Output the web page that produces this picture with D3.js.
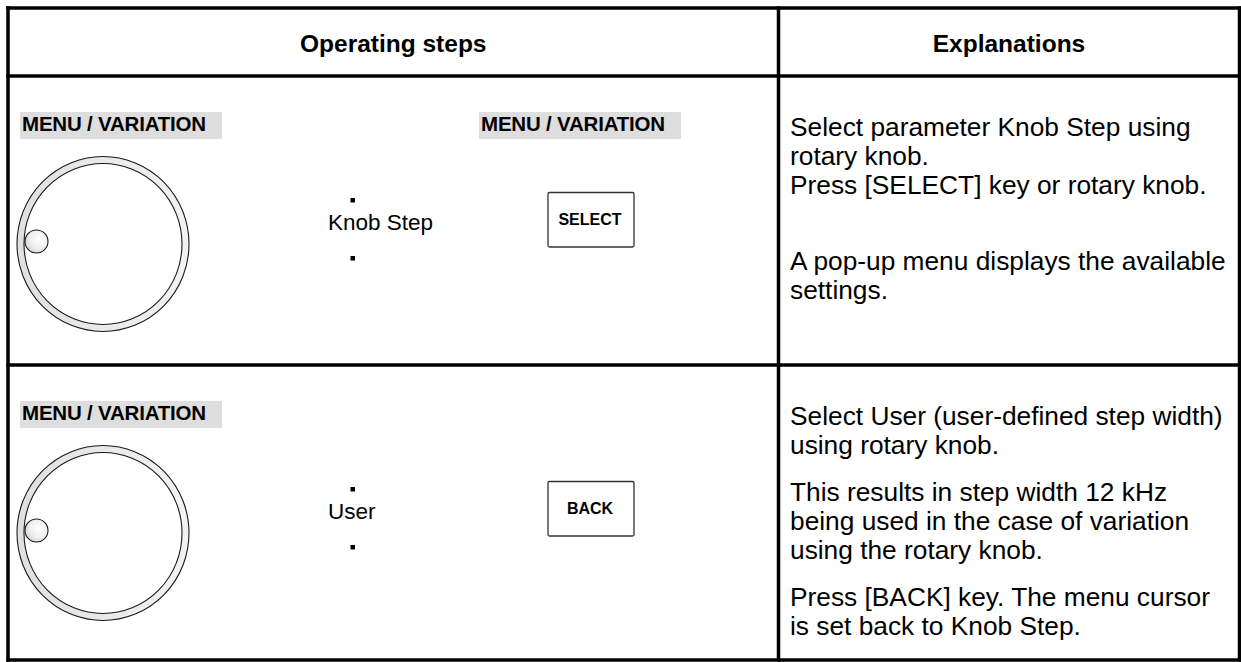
<!DOCTYPE html>
<html>
<head>
<meta charset="utf-8">
<script src="https://cdn.jsdelivr.net/npm/d3@7"></script>
<style>
  html, body { margin: 0; padding: 0; background: #fff; }
  svg { display: block; }
  text { font-family: "Liberation Sans", Arimo, Arial, sans-serif; fill: #000; }
</style>
</head>
<body>
<div id="chart"></div>
<script>
// ---------- data ----------
const headers = ["Operating steps", "Explanations"];
const menuLabel = "MENU / VARIATION";
const stepItems = ["Knob Step", "User"];
const keyLabels = ["SELECT", "BACK"];
const secondMenuShown = [true, false];
const explanationRow1 = [
  ["Select parameter Knob Step using", "rotary knob.", "Press [SELECT] key or rotary knob.", ""],
  ["A pop-up menu displays the available", "settings."]
];
const explanationRow2 = [
  ["Select User (user-defined step width)", "using rotary knob."],
  ["This results in step width 12 kHz", "being used in the case of variation", "using the rotary knob."],
  ["Press [BACK] key. The menu cursor", "is set back to Knob Step."]
];
const explanations = [explanationRow1, explanationRow2];

// ---------- layout ----------
const W = 1241, H = 662;
const svg = d3.select("#chart").append("svg").attr("width", W).attr("height", H);

const xEdge = d3.scaleOrdinal().domain(["left", "mid", "right"]).range([8, 778.5, 1239.5]);
const yEdge = d3.scaleOrdinal().domain(["top", "head", "row", "bottom"]).range([8, 76, 365, 660]);
const rowTops = [yEdge("head"), yEdge("row")];

const defs = svg.append("defs");
const g1 = defs.append("radialGradient").attr("id", "dimple").attr("cx", "62%").attr("cy", "40%").attr("r", "70%");
g1.append("stop").attr("offset", "0%").attr("stop-color", "#ffffff");
g1.append("stop").attr("offset", "55%").attr("stop-color", "#f0f0f0");
g1.append("stop").attr("offset", "100%").attr("stop-color", "#cfcfcf");
const g2 = defs.append("linearGradient").attr("id", "ring").attr("x1", "0%").attr("x2", "100%");
g2.append("stop").attr("offset", "0%").attr("stop-color", "#e0e0e0");
g2.append("stop").attr("offset", "100%").attr("stop-color", "#f3f3f3");

// header texts
const headCenters = [(xEdge("left") + xEdge("mid")) / 2, (xEdge("mid") + xEdge("right")) / 2];
svg.selectAll("text.head").data(headers).join("text")
  .attr("class", "head")
  .attr("x", (d, i) => headCenters[i])
  .attr("y", 52)
  .attr("text-anchor", "middle")
  .style("font-weight", "bold")
  .style("font-size", "24.5px")
  .text(d => d);

// rows
rowTops.forEach((top, r) => {
  const g = svg.append("g").attr("transform", `translate(0,${top})`);

  const menus = secondMenuShown[r] ? [20, 479] : [20];
  menus.forEach(mx => {
    g.append("rect").attr("x", mx).attr("y", 36).attr("width", 202).attr("height", 27)
      .attr("fill", "#dedede");
    g.append("text").attr("x", mx + 2).attr("y", 55)
      .style("font-weight", "bold").style("font-size", "20.5px")
      .style("letter-spacing", "-0.2px")
      .text(menuLabel);
  });

  // knob
  const cx = 103, cy = 168;
  g.append("ellipse").attr("cx", cx).attr("cy", cy).attr("rx", 86).attr("ry", 87.5)
    .attr("fill", "url(#ring)").attr("stroke", "#1a1a1a").attr("stroke-width", 1.1);
  g.append("ellipse").attr("cx", cx).attr("cy", cy).attr("rx", 79).attr("ry", 80.5)
    .attr("fill", "#fff").attr("stroke", "#1a1a1a").attr("stroke-width", 1.1);
  g.append("circle").attr("cx", 36.5).attr("cy", cy - 2.5).attr("r", 11.5)
    .attr("fill", "url(#dimple)").attr("stroke", "#1a1a1a").attr("stroke-width", 1.1);

  // step list item with dots
  g.append("rect").attr("x", 350.5).attr("y", 122).attr("width", 4.5).attr("height", 4.5).attr("fill", "#000");
  g.append("rect").attr("x", 350.5).attr("y", 180).attr("width", 4.5).attr("height", 4.5).attr("fill", "#000");
  g.append("text").attr("x", 328).attr("y", 154)
    .style("font-size", "22.5px").text(stepItems[r]);

  // key button
  g.append("rect").attr("x", 548).attr("y", 116.5).attr("width", 86).attr("height", 54.5)
    .attr("rx", 1.5).attr("fill", "#fff").attr("stroke", "#333").attr("stroke-width", 1.3);
  g.append("text").attr("x", 590).attr("y", 149).attr("text-anchor", "middle")
    .style("font-weight", "bold").style("font-size", "16px").text(keyLabels[r]);

  // explanation paragraphs
  const lineStep = 29, paraGap = 18;
  let y = 60;
  explanations[r].forEach((para, pi) => {
    if (pi > 0) y += paraGap;
    para.forEach((line) => {
      if (line) {
        g.append("text").attr("x", 790).attr("y", y)
          .style("font-size", "26.3px").text(line);
      }
      y += lineStep;
    });
  });
});

// grid lines
const lines = [
  [xEdge("left"), yEdge("top"), xEdge("right"), yEdge("top")],
  [xEdge("left"), yEdge("head"), xEdge("right"), yEdge("head")],
  [xEdge("left"), yEdge("row"), xEdge("right"), yEdge("row")],
  [xEdge("left"), yEdge("bottom"), xEdge("right"), yEdge("bottom")],
  [xEdge("left"), yEdge("top"), xEdge("left"), yEdge("bottom")],
  [xEdge("mid"), yEdge("top"), xEdge("mid"), yEdge("bottom")],
  [xEdge("right"), yEdge("top"), xEdge("right"), yEdge("bottom")]
];
svg.selectAll("line.grid").data(lines).join("line")
  .attr("class", "grid")
  .attr("x1", d => d[0]).attr("y1", d => d[1]).attr("x2", d => d[2]).attr("y2", d => d[3])
  .attr("stroke", "#000").attr("stroke-width", 3.5).attr("stroke-linecap", "square");
</script>
</body>
</html>
